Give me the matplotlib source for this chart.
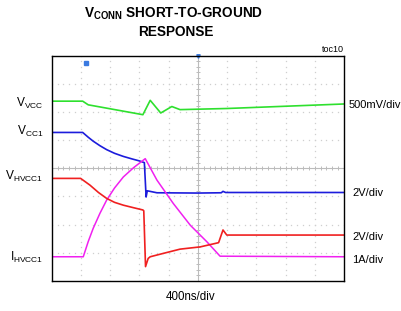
import matplotlib
matplotlib.use("Agg")
import matplotlib.pyplot as plt
import numpy as np

plt.rcParams['font.family'] = ['Liberation Sans', 'DejaVu Sans']
plt.rcParams['mathtext.fontset'] = 'custom'
plt.rcParams['mathtext.rm'] = 'Liberation Sans'
plt.rcParams['mathtext.bf'] = 'Liberation Sans:bold'

# traces, in screen divisions (x: 0..10, y: 0..8)
vvcc_t = [0, 1.06, 1.25, 3.12, 3.37, 3.73, 4.11, 4.39, 6.0, 10]
vvcc_v = [6.38, 6.38, 6.25, 5.90, 6.41, 5.96, 6.19, 6.08, 6.12, 6.28]

vcc1_t = [0, 1.06, 1.25, 1.42, 1.65, 1.88, 2.15, 2.45, 2.75, 3.0, 3.17, 3.23, 3.27, 3.6, 5.0, 5.8, 5.86, 5.95, 10]
vcc1_v = [5.27, 5.27, 5.10, 4.96, 4.80, 4.66, 4.53, 4.42, 4.33, 4.26, 4.20, 2.98, 3.20, 3.13, 3.12, 3.13, 3.18, 3.14, 3.14]

vhvcc1_t = [0, 0.99, 1.15, 1.31, 1.6, 1.88, 2.15, 2.45, 2.8, 3.12, 3.15, 3.21, 3.30, 3.37, 3.82, 4.39, 5.08, 5.71, 5.86, 5.99, 10]
vhvcc1_v = [3.64, 3.64, 3.52, 3.40, 3.14, 2.93, 2.79, 2.69, 2.60, 2.52, 2.49, 0.51, 0.80, 0.86, 0.98, 1.13, 1.21, 1.36, 1.81, 1.63, 1.63]

ihvcc1_t = [0, 1.08, 1.25, 1.42, 1.65, 1.88, 2.15, 2.45, 2.8, 3.20, 3.60, 4.16, 4.74, 5.31, 5.76, 10]
ihvcc1_v = [0.86, 0.86, 1.40, 1.87, 2.40, 2.87, 3.30, 3.69, 4.02, 4.34, 3.58, 2.75, 1.98, 1.39, 0.88, 0.86]

left_labels = [r"V$_{\mathrm{VCC}}$", r"V$_{\mathrm{CC1}}$", r"V$_{\mathrm{HVCC1}}$", r"I$_{\mathrm{HVCC1}}$"]
left_label_y = [103, 131, 176, 257]
scale_labels = ["500mV/div", "2V/div", "2V/div", "1A/div"]
scale_label_y = [105, 193, 237, 260]

W, H = 401, 311
fig = plt.figure(figsize=(W / 100, H / 100), dpi=100)
ax = fig.add_axes([51.7 / W, 1 - 281 / H, (344 - 51.7) / W, (281 - 55.5) / H])
ax.set_xlim(0, 10)
ax.set_ylim(0, 8)
ax.set_xticks([])
ax.set_yticks([])
for s in ax.spines.values():
    s.set_linewidth(1.0)
    s.set_color('black')

# dotted graticule
minor = np.arange(0, 10.01, 0.2)
minor_y = np.arange(0, 8.01, 0.2)
gcol = '#cfcfcf'
for i in range(1, 10):
    if i == 5:
        continue
    ax.plot(np.full_like(minor_y, i), minor_y, ls='none', marker='s', ms=0.9, color=gcol, mew=0)
for j in range(1, 8):
    if j == 4:
        continue
    ax.plot(minor, np.full_like(minor, j), ls='none', marker='s', ms=0.9, color=gcol, mew=0)
# center cross with ticks
ax.axhline(4, color='#bcbcbc', lw=0.8)
ax.axvline(5, color='#bcbcbc', lw=0.8)
ax.plot(minor, np.full_like(minor, 4), ls='none', marker='|', ms=3, color='#bcbcbc', mew=0.7)
ax.plot(np.full_like(minor_y, 5), minor_y, ls='none', marker='_', ms=3, color='#bcbcbc', mew=0.7)

# traces
ax.plot(vvcc_t, vvcc_v, color='#2ee02e', lw=1.2)
ax.plot(vcc1_t, vcc1_v, color='#1c1cdc', lw=1.2)
ax.plot(ihvcc1_t, ihvcc1_v, color='#f020f0', lw=1.1)
ax.plot(vhvcc1_t, vhvcc1_v, color='#f02020', lw=1.2)

# trigger markers
ax.plot([1.17], [7.72], marker='s', ms=3, color='#3a7ae0', clip_on=False)
ax.plot([5.0], [7.98], marker='v', ms=2.5, color='#3a7ae0', clip_on=False)

# text
fig.text(174 / W, 1 - 14 / H, r"V$_{\mathbf{CONN}}$ SHORT-TO-GROUND", ha='center', va='center',
         fontsize=9.8, fontweight='bold')
fig.text(176 / W, 1 - 32 / H, "RESPONSE", ha='center', va='center', fontsize=9.8, fontweight='bold')
fig.text(344 / W, 1 - 49 / H, "toc10", ha='right', va='center', fontsize=6.5)
fig.text(191 / W, 1 - 297 / H, "400ns/div", ha='center', va='center', fontsize=8.3)

for lab, y in zip(left_labels, left_label_y):
    fig.text(43 / W, 1 - y / H, lab, ha='right', va='center', fontsize=8.6)
for lab, y in zip(scale_labels, scale_label_y):
    x = 349 if lab.startswith("500") else 352
    fig.text(x / W, 1 - y / H, lab, ha='left', va='center', fontsize=8)

fig.savefig("out.png", dpi=100)
